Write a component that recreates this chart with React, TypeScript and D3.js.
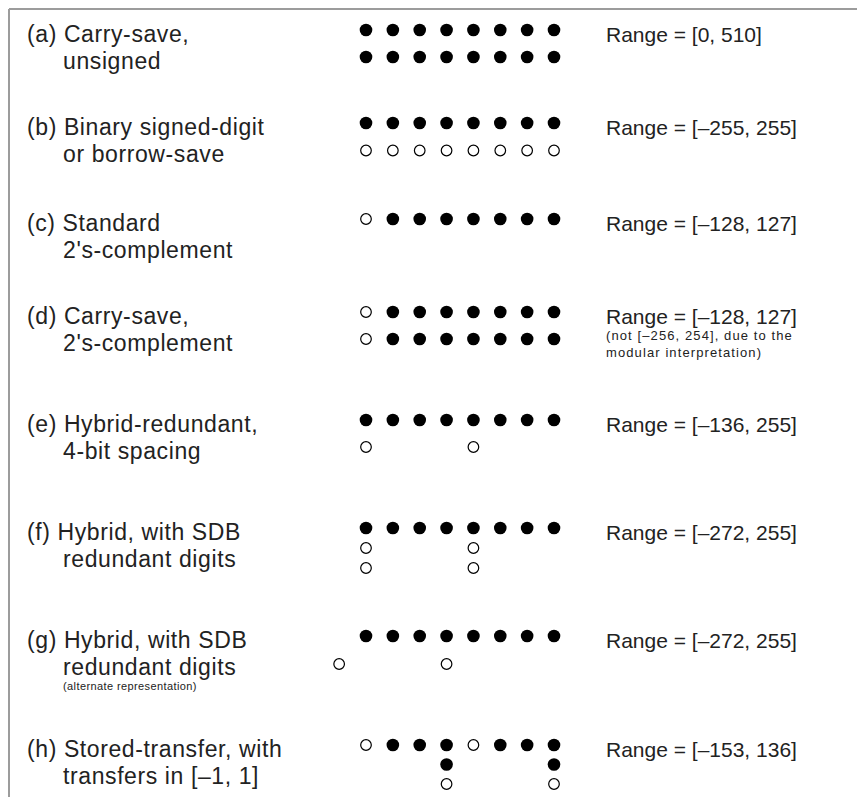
import React from "react";
import * as d3 from "d3";

// ---------- data ----------
const rowIds = ["a", "b", "c", "d", "e", "f", "g", "h"];

const labelLine1 = [
  "(a) Carry-save,",
  "(b) Binary signed-digit",
  "(c) Standard",
  "(d) Carry-save,",
  "(e) Hybrid-redundant,",
  "(f) Hybrid, with SDB",
  "(g) Hybrid, with SDB",
  "(h) Stored-transfer, with",
];
const labelLine2 = [
  "unsigned",
  "or borrow-save",
  "2's-complement",
  "2's-complement",
  "4-bit spacing",
  "redundant digits",
  "redundant digits",
  "transfers in [\u20131, 1]",
];
const labelNote = ["", "", "", "", "", "", "(alternate representation)", ""];

const rangeText = [
  "Range = [0, 510]",
  "Range = [\u2013255, 255]",
  "Range = [\u2013128, 127]",
  "Range = [\u2013128, 127]",
  "Range = [\u2013136, 255]",
  "Range = [\u2013272, 255]",
  "Range = [\u2013272, 255]",
  "Range = [\u2013153, 136]",
];
const rangeNote = [
  [],
  [],
  [],
  ["(not [\u2013256, 254], due to the", "modular interpretation)"],
  [],
  [],
  [],
  [],
];

// dot patterns: "F" filled, "O" open, "." empty; one string per sub-row,
// characters are columns -1..7 (first character is column -1)
const dotPatterns = [
  [".FFFFFFFF", ".FFFFFFFF"],
  [".FFFFFFFF", ".OOOOOOOO"],
  [".OFFFFFFF"],
  [".OFFFFFFF", ".OFFFFFFF"],
  [".FFFFFFFF", ".O...O..."],
  [".FFFFFFFF", ".O...O...", ".O...O..."],
  [".FFFFFFFF", "O...O...."],
  [".OFFFOFFF", "....F...F", "....O...O"],
];

// ---------- layout ----------
const W = 857;
const H = 797;
const rowTop = [30, 123, 219, 312, 420, 528, 636, 745];
const subStep = [27, 27.5, 27, 27, 27, 20, 28, 19.5];

export default function App() {
  const x = d3.scaleLinear().domain([0, 7]).range([366, 554]);
  const font = "'Liberation Sans', Arial, Helvetica, sans-serif";
  const textColor = "#222";

  const dots: { key: string; cx: number; cy: number; filled: boolean }[] = [];
  dotPatterns.forEach((rows, ri) => {
    rows.forEach((pattern, si) => {
      pattern.split("").forEach((ch, ci) => {
        if (ch === ".") return;
        dots.push({
          key: `${rowIds[ri]}-${si}-${ci}`,
          cx: x(ci - 1),
          cy: rowTop[ri] + si * subStep[ri],
          filled: ch === "F",
        });
      });
    });
  });

  return (
    <svg
      width={W}
      height={H}
      style={{ position: "absolute", left: 0, top: 0, background: "#fff" }}
    >
      <rect x={0} y={0} width={W} height={H} fill="#fff" />
      <line x1={9} y1={9} x2={W} y2={9} stroke="#9c9c9c" strokeWidth={2} />
      <line x1={9} y1={9} x2={9} y2={H} stroke="#9c9c9c" strokeWidth={2} />

      {rowIds.map((id, i) => {
        const base = rowTop[i] + 12;
        return (
          <g key={id} fontFamily={font} fill={textColor}>
            <text x={27} y={base} fontSize={23} letterSpacing={0.6}>
              {labelLine1[i]}
            </text>
            <text x={63} y={base + 27} fontSize={23} letterSpacing={0.6}>
              {labelLine2[i]}
            </text>
            {labelNote[i] && (
              <text x={63} y={base + 42} fontSize={11} letterSpacing={0.4}>
                {labelNote[i]}
              </text>
            )}
            <text x={606} y={base} fontSize={21}>
              {rangeText[i]}
            </text>
            {rangeNote[i].map((t, k) => (
              <text
                key={k}
                x={606}
                y={base + 16 + k * 17}
                fontSize={13}
                letterSpacing={1.1}
              >
                {t}
              </text>
            ))}
          </g>
        );
      })}

      {dots.map((d) =>
        d.filled ? (
          <circle key={d.key} cx={d.cx} cy={d.cy} r={6.3} fill="#000" />
        ) : (
          <circle
            key={d.key}
            cx={d.cx}
            cy={d.cy}
            r={5.3}
            fill="#fff"
            stroke="#000"
            strokeWidth={1.2}
          />
        )
      )}
    </svg>
  );
}
